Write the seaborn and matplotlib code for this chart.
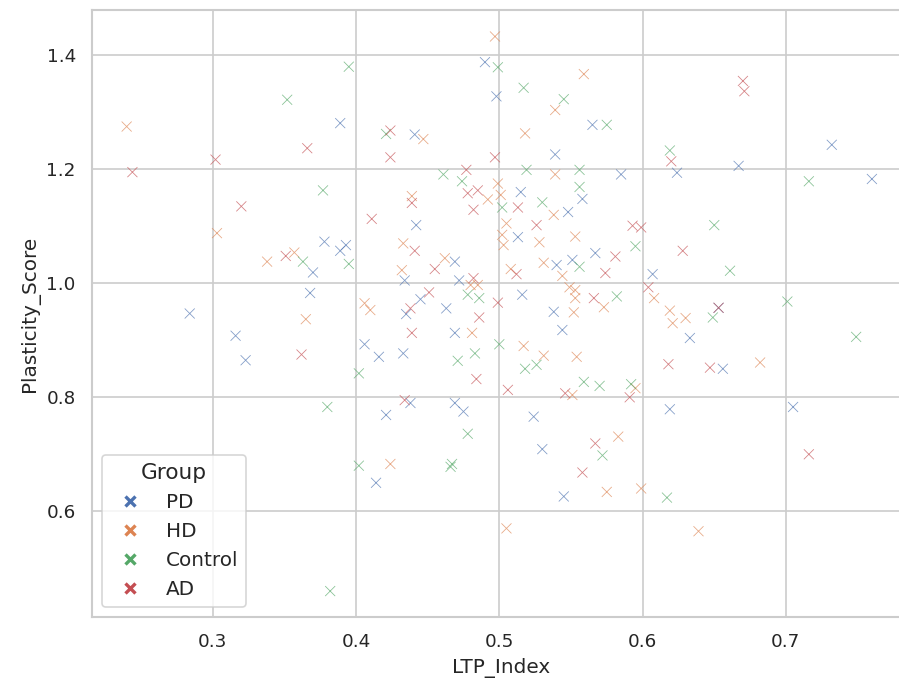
import pandas as pd
import matplotlib.pyplot as plt
import seaborn as sns

# values, one pair of lists per group
pd_x = [0.389, 0.490, 0.498, 0.565, 0.441, 0.539, 0.585, 0.515, 0.558, 0.548,
        0.624, 0.667, 0.732, 0.760, 0.378, 0.389, 0.393, 0.370, 0.368, 0.284,
        0.316, 0.323, 0.442, 0.469, 0.434, 0.472, 0.445, 0.516, 0.435, 0.463,
        0.538, 0.469, 0.544, 0.406, 0.416, 0.433, 0.438, 0.469, 0.475, 0.421,
        0.524, 0.513, 0.567, 0.540, 0.551, 0.607, 0.633, 0.656, 0.619, 0.705,
        0.414, 0.530, 0.545, 0.653]
pd_y = [1.281, 1.388, 1.328, 1.278, 1.261, 1.226, 1.191, 1.160, 1.148, 1.125,
        1.194, 1.206, 1.243, 1.183, 1.073, 1.057, 1.067, 1.019, 0.983, 0.947,
        0.908, 0.865, 1.102, 1.038, 1.005, 1.005, 0.972, 0.980, 0.946, 0.956,
        0.950, 0.913, 0.918, 0.893, 0.871, 0.877, 0.790, 0.790, 0.775, 0.769,
        0.766, 1.081, 1.053, 1.032, 1.041, 1.016, 0.904, 0.850, 0.779, 0.783,
        0.650, 0.709, 0.626, 0.957]

hd_x = [0.240, 0.497, 0.559, 0.539, 0.447, 0.518, 0.539, 0.499, 0.492, 0.501,
        0.439, 0.538, 0.303, 0.338, 0.357, 0.365, 0.433, 0.462, 0.432, 0.480,
        0.485, 0.406, 0.410, 0.552, 0.481, 0.517, 0.531, 0.554, 0.551, 0.505,
        0.502, 0.503, 0.528, 0.553, 0.531, 0.508, 0.544, 0.549, 0.553, 0.553,
        0.573, 0.608, 0.619, 0.630, 0.621, 0.682, 0.595, 0.424, 0.583, 0.575,
        0.505, 0.599, 0.639]
hd_y = [1.275, 1.433, 1.367, 1.304, 1.253, 1.263, 1.191, 1.175, 1.147, 1.155,
        1.153, 1.120, 1.088, 1.038, 1.054, 0.937, 1.070, 1.044, 1.023, 0.997,
        0.997, 0.965, 0.953, 0.949, 0.913, 0.890, 0.873, 0.871, 0.804, 1.105,
        1.085, 1.067, 1.072, 1.082, 1.036, 1.025, 1.013, 0.993, 0.988, 0.974,
        0.958, 0.974, 0.952, 0.939, 0.930, 0.861, 0.816, 0.683, 0.731, 0.634,
        0.570, 0.640, 0.565]

ctrl_x = [0.395, 0.352, 0.377, 0.499, 0.517, 0.545, 0.575, 0.421, 0.461, 0.519,
          0.556, 0.474, 0.556, 0.530, 0.502, 0.619, 0.716, 0.363, 0.395, 0.380,
          0.402, 0.478, 0.486, 0.500, 0.471, 0.483, 0.518, 0.526, 0.559, 0.570,
          0.556, 0.582, 0.650, 0.595, 0.661, 0.701, 0.649, 0.749, 0.592, 0.478,
          0.402, 0.466, 0.467, 0.572, 0.617, 0.382]
ctrl_y = [1.380, 1.322, 1.163, 1.379, 1.343, 1.323, 1.278, 1.262, 1.191, 1.199,
          1.199, 1.179, 1.169, 1.142, 1.133, 1.233, 1.179, 1.038, 1.034, 0.783,
          0.842, 0.980, 0.974, 0.893, 0.864, 0.877, 0.850, 0.857, 0.827, 0.820,
          1.029, 0.977, 1.102, 1.065, 1.022, 0.968, 0.940, 0.906, 0.823, 0.736,
          0.680, 0.678, 0.683, 0.698, 0.624, 0.460]

ad_x = [0.366, 0.302, 0.244, 0.320, 0.424, 0.424, 0.497, 0.477, 0.478, 0.485,
        0.439, 0.513, 0.482, 0.411, 0.670, 0.671, 0.620, 0.351, 0.362, 0.441,
        0.455, 0.482, 0.451, 0.499, 0.438, 0.486, 0.439, 0.484, 0.506, 0.546,
        0.434, 0.526, 0.581, 0.574, 0.512, 0.566, 0.593, 0.599, 0.628, 0.604,
        0.653, 0.618, 0.647, 0.591, 0.567, 0.558, 0.716]
ad_y = [1.237, 1.217, 1.195, 1.135, 1.268, 1.221, 1.221, 1.199, 1.158, 1.163,
        1.141, 1.133, 1.129, 1.113, 1.355, 1.337, 1.214, 1.048, 0.875, 1.057,
        1.025, 1.009, 0.984, 0.966, 0.956, 0.940, 0.913, 0.832, 0.813, 0.807,
        0.795, 1.102, 1.047, 1.018, 1.016, 0.974, 1.101, 1.098, 1.057, 0.993,
        0.957, 0.858, 0.852, 0.800, 0.719, 0.668, 0.700]

groups = ["PD", "HD", "Control", "AD"]

frames = []
for name, xs, ys in zip(groups, [pd_x, hd_x, ctrl_x, ad_x], [pd_y, hd_y, ctrl_y, ad_y]):
    frames.append(pd.DataFrame({"LTP_Index": xs, "Plasticity_Score": ys, "Group": name}))
df = pd.concat(frames, ignore_index=True)

sns.set_theme(style="whitegrid")

fig, ax = plt.subplots(figsize=(899 / 120, 689 / 120), dpi=120)
ax.set_position([91.7 / 899, 1 - 617.3 / 689, (909.6 - 91.7) / 899, (617.3 - 9.7) / 689])

sns.scatterplot(data=df, x="LTP_Index", y="Plasticity_Score", hue="Group",
                hue_order=groups, marker="x", alpha=0.7, ax=ax)

ax.set_xlim(0.2156, 0.7863)
ax.set_ylim(0.414, 1.48)

leg = ax.legend(title="Group", loc="lower left", fontsize=12, title_fontsize=13)
for h in leg.legend_handles:
    h.set_alpha(1)
    h.set_markeredgewidth(2)

fig.savefig("out.png", dpi=120)
plt.close(fig)
